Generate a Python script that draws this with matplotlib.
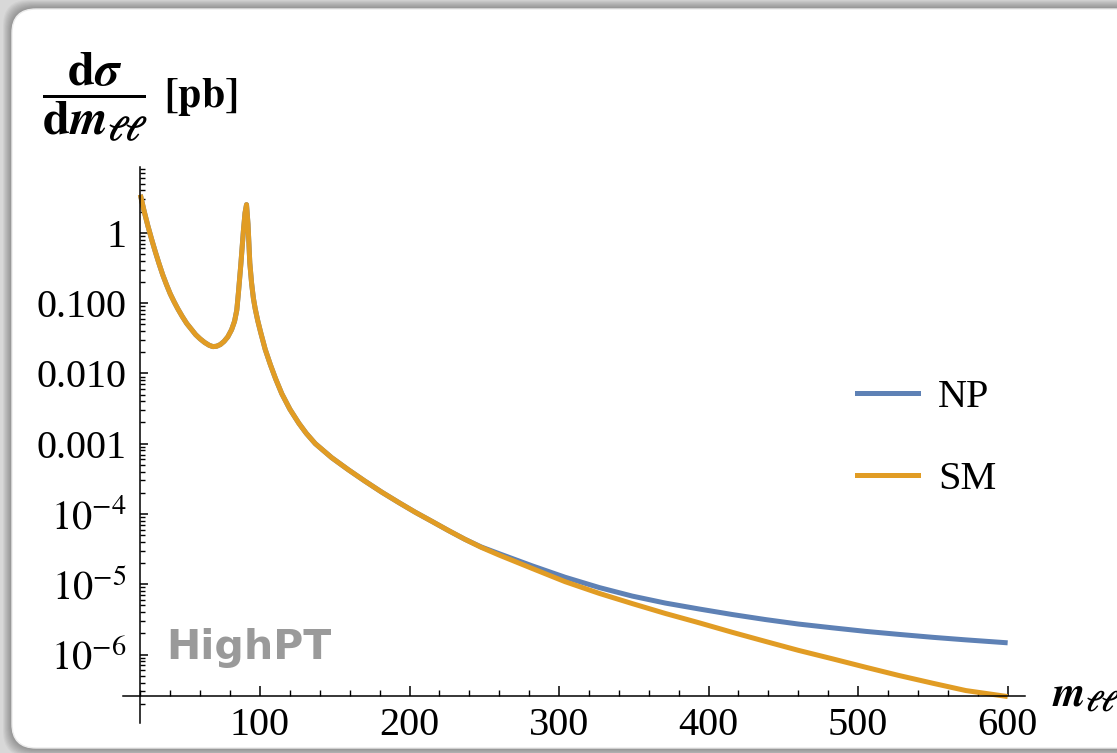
import numpy as np
import matplotlib
matplotlib.use("Agg")
from matplotlib import pyplot as plt
from matplotlib.patches import FancyBboxPatch
from matplotlib.lines import Line2D
from matplotlib.ticker import FixedLocator, FixedFormatter, LogLocator, MultipleLocator, NullFormatter

# Dilepton invariant mass [GeV].
m_ll = [20, 22.5, 25, 27.5, 30, 32.5, 35, 37.5, 40, 42.5, 45, 48, 51, 54, 57, 60, 63, 66,
        68.5, 71, 73.5, 76, 78.5, 81, 83, 84.5, 85.6, 87.2, 88.9, 90.0, 91.0, 92.0, 93.2,
        94.4, 95.6, 96.8, 98.5, 100.5, 103.5, 107, 110.5, 114.6, 120, 126, 131, 137, 148,
        159, 170, 181.5, 192.7, 203.8, 215, 226, 237, 248, 260, 282, 304, 327, 349, 371,
        394, 416, 438, 460, 483, 505, 527, 550, 572, 600]

# Standard Model differential cross section [pb].
sigma_sm = [3.47, 2.04, 1.26, 0.813, 0.537, 0.363, 0.251, 0.182, 0.135, 0.105, 0.0832,
            0.0646, 0.0513, 0.0427, 0.0355, 0.0309, 0.0275, 0.0251, 0.0240, 0.0243, 0.0257,
            0.0285, 0.0331, 0.0417, 0.0550, 0.0794, 0.141, 0.355, 1.05, 1.91, 2.51, 1.32,
            0.372, 0.191, 0.117, 0.0832, 0.0562, 0.0380, 0.0219, 0.0132, 0.00832, 0.00513,
            0.00309, 0.00195, 0.00140, 0.00100, 6.31e-4, 4.27e-4, 2.95e-4, 2.04e-4, 1.46e-4,
            1.06e-4, 7.85e-5, 5.82e-5, 4.37e-5, 3.35e-5, 2.60e-5, 1.68e-5, 1.09e-5, 7.41e-6,
            5.31e-6, 3.85e-6, 2.82e-6, 2.07e-6, 1.54e-6, 1.15e-6, 8.69e-7, 6.61e-7, 5.06e-7,
            3.91e-7, 3.08e-7, 2.53e-7]

# New physics differential cross section [pb], identical to the SM at low mass.
sigma_np = sigma_sm[:55] + [3.39e-5, 2.72e-5, 1.83e-5, 1.26e-5, 8.97e-6, 6.79e-6, 5.41e-6,
                            4.44e-6, 3.71e-6, 3.15e-6, 2.72e-6, 2.40e-6, 2.14e-6, 1.94e-6,
                            1.76e-6, 1.62e-6, 1.47e-6]

# Axis ticks.
y_ticks = [1, 0.1, 0.01, 0.001, 1e-4, 1e-5, 1e-6]
y_tick_labels = ["1", "0.100", "0.010", "0.001", r"$10^{-4}$", r"$10^{-5}$", r"$10^{-6}$"]
x_ticks = [100, 200, 300, 400, 500, 600]
series_labels = ["NP", "SM"]

# Fonts, Times-like as in the original.
plt.rcParams['font.family'] = 'serif'
plt.rcParams['font.serif'] = ['Liberation Serif', 'DejaVu Serif']
plt.rcParams['mathtext.fontset'] = 'stix'

W, H = 1117, 753
fig = plt.figure(figsize=(W / 100, H / 100), dpi=100)
fig.patch.set_facecolor('#d8d8d8')

# Background panel with a soft shadow, drawn in pixel coordinates.
bg = fig.add_axes([0, 0, 1, 1])
bg.set_xlim(0, W)
bg.set_ylim(H, 0)
bg.axis('off')
for i in range(10, 0, -1):
    shadow = FancyBboxPatch((12 - i * 0.9, 9 - i * 0.9), 1200, 739 + i * 1.8,
                            boxstyle="round,pad=0,rounding_size=26",
                            facecolor='black', edgecolor='none', alpha=0.035)
    bg.add_patch(shadow)
panel = FancyBboxPatch((12, 9), 1200, 739, boxstyle="round,pad=0,rounding_size=24",
                       facecolor='white', edgecolor='#ececec', linewidth=1)
bg.add_patch(panel)

# Main plot axes.
ax = fig.add_axes([123 / W, 1 - 723 / H, 902 / W, 556 / H])
ax.patch.set_alpha(0)
ax.set_yscale('log')
ax.set_xlim(8.4, 611.6)
ax.set_ylim(10 ** -6.973, 10 ** 0.935)

ax.plot(m_ll, sigma_np, color='#5E81B5', linewidth=3.6, solid_capstyle='butt', label=series_labels[0])
ax.plot(m_ll, sigma_sm, color='#E19C24', linewidth=3.6, solid_capstyle='butt', label=series_labels[1])

# Mathematica-style crossing axes.
for side in ['top', 'right']:
    ax.spines[side].set_visible(False)
ax.spines['left'].set_position(('data', 20))
ax.spines['bottom'].set_position(('data', 10 ** -6.593))
for side in ['left', 'bottom']:
    ax.spines[side].set_linewidth(1.1)

ax.yaxis.set_major_locator(FixedLocator(y_ticks))
ax.yaxis.set_major_formatter(FixedFormatter(y_tick_labels))
ax.yaxis.set_minor_locator(LogLocator(base=10, subs=np.arange(2, 10), numticks=30))
ax.yaxis.set_minor_formatter(NullFormatter())
ax.xaxis.set_major_locator(FixedLocator(x_ticks))
ax.xaxis.set_minor_locator(MultipleLocator(20))

ax.tick_params(axis='y', which='major', direction='in', length=6, width=1.1, labelsize=29, pad=10)
ax.tick_params(axis='y', which='minor', direction='in', length=3.6, width=1.0)
ax.tick_params(axis='x', which='major', direction='in', length=7.2, width=1.1, labelsize=29, pad=8)
ax.tick_params(axis='x', which='minor', direction='in', length=4.3, width=1.0)

# Legend.
handles = [Line2D([], [], color='#5E81B5', linewidth=3.6),
           Line2D([], [], color='#E19C24', linewidth=3.6)]
ax.legend(handles, series_labels, loc='center left', frameon=False, fontsize=29,
          bbox_to_anchor=(857 / W, 1 - 438.5 / H), bbox_transform=fig.transFigure,
          borderpad=0, borderaxespad=0, handlelength=1.52, handletextpad=0.5, labelspacing=1.1)

# Axis labels.
bg.text(42, 97, r'$\dfrac{\mathbf{d}\boldsymbol{\sigma}}{\mathbf{d}\boldsymbol{m}_{\boldsymbol{\ell\ell}}}$',
        fontsize=35, ha='left', va='center')
bg.text(164, 97, r'$\mathbf{[pb]}$', fontsize=30, ha='left', va='center')
bg.text(1052, 706, r'$\boldsymbol{m}_{\boldsymbol{\ell\ell}}$', fontsize=30, ha='left', va='baseline')

# Watermark.
bg.text(166, 659, 'HighPT', fontsize=29.5, family='DejaVu Sans', fontweight='bold',
        color='#9a9a9a', ha='left', va='baseline')

fig.savefig('out.png', dpi=100, facecolor=fig.get_facecolor())
